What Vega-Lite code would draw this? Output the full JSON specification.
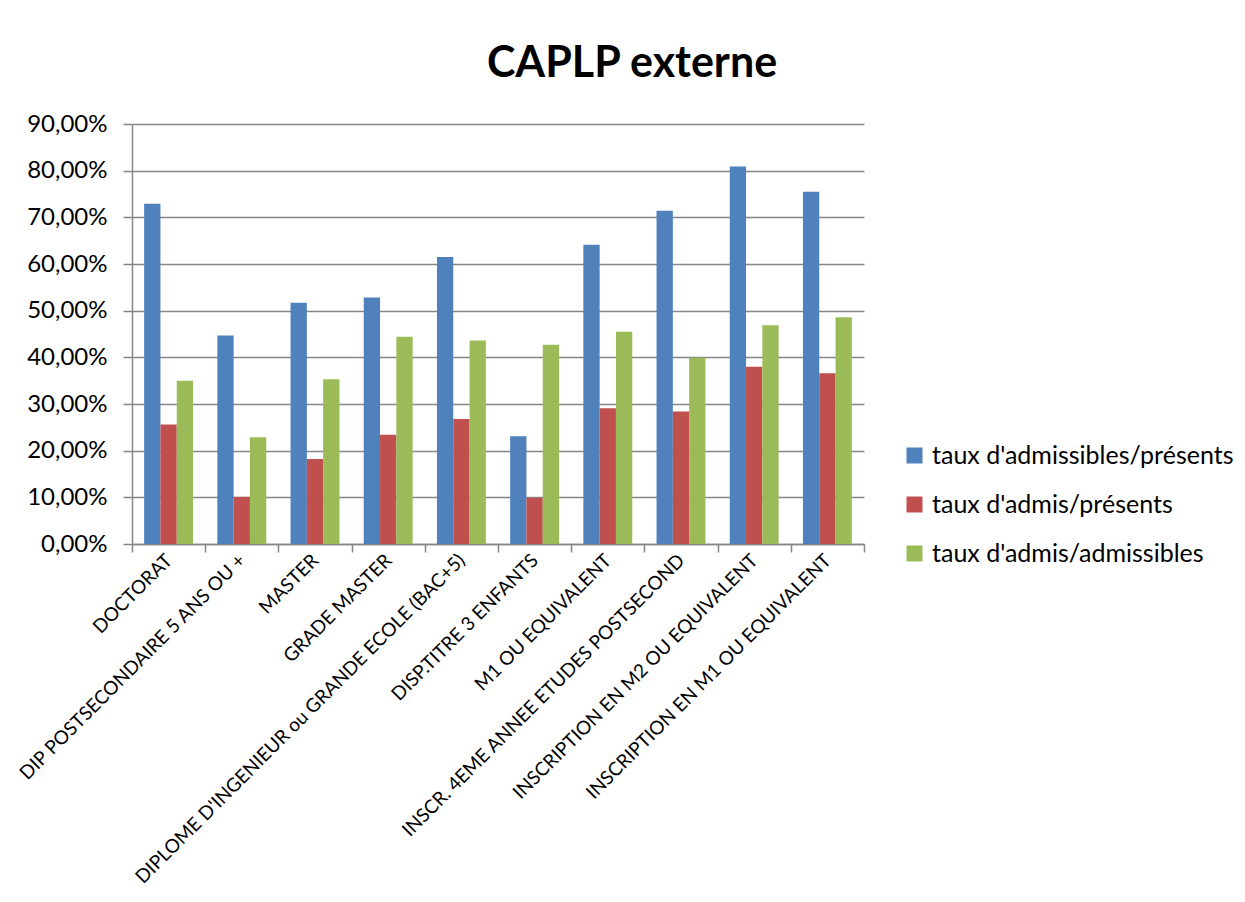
{
  "$schema": "https://vega.github.io/schema/vega-lite/v6.json",
  "autosize": {"type": "none"},
  "padding": {"left": 132, "top": 124, "right": 381, "bottom": 358},
  "width": 732,
  "height": 420,
  "background": "white",
  "title": {
    "text": "CAPLP externe",
    "font": "Lato",
    "fontSize": 43,
    "fontWeight": "bold",
    "color": "#000000",
    "anchor": "middle",
    "frame": "group",
    "baseline": "alphabetic",
    "offset": 35,
    "dx": 134,
    "dy": 43
  },
  "data": {
    "values": [
      {"diplome": "DOCTORAT", "serie": "taux d'admissibles/présents", "taux": 0.729},
      {"diplome": "DOCTORAT", "serie": "taux d'admis/présents", "taux": 0.256},
      {"diplome": "DOCTORAT", "serie": "taux d'admis/admissibles", "taux": 0.350},
      {"diplome": "DIP POSTSECONDAIRE 5 ANS OU +", "serie": "taux d'admissibles/présents", "taux": 0.447},
      {"diplome": "DIP POSTSECONDAIRE 5 ANS OU +", "serie": "taux d'admis/présents", "taux": 0.101},
      {"diplome": "DIP POSTSECONDAIRE 5 ANS OU +", "serie": "taux d'admis/admissibles", "taux": 0.229},
      {"diplome": "MASTER", "serie": "taux d'admissibles/présents", "taux": 0.517},
      {"diplome": "MASTER", "serie": "taux d'admis/présents", "taux": 0.182},
      {"diplome": "MASTER", "serie": "taux d'admis/admissibles", "taux": 0.353},
      {"diplome": "GRADE MASTER", "serie": "taux d'admissibles/présents", "taux": 0.528},
      {"diplome": "GRADE MASTER", "serie": "taux d'admis/présents", "taux": 0.234},
      {"diplome": "GRADE MASTER", "serie": "taux d'admis/admissibles", "taux": 0.444},
      {"diplome": "DIPLOME D'INGENIEUR ou GRANDE ECOLE (BAC+5)", "serie": "taux d'admissibles/présents", "taux": 0.615},
      {"diplome": "DIPLOME D'INGENIEUR ou GRANDE ECOLE (BAC+5)", "serie": "taux d'admis/présents", "taux": 0.268},
      {"diplome": "DIPLOME D'INGENIEUR ou GRANDE ECOLE (BAC+5)", "serie": "taux d'admis/admissibles", "taux": 0.436},
      {"diplome": "DISP.TITRE 3 ENFANTS", "serie": "taux d'admissibles/présents", "taux": 0.231},
      {"diplome": "DISP.TITRE 3 ENFANTS", "serie": "taux d'admis/présents", "taux": 0.099},
      {"diplome": "DISP.TITRE 3 ENFANTS", "serie": "taux d'admis/admissibles", "taux": 0.427},
      {"diplome": "M1 OU EQUIVALENT", "serie": "taux d'admissibles/présents", "taux": 0.641},
      {"diplome": "M1 OU EQUIVALENT", "serie": "taux d'admis/présents", "taux": 0.291},
      {"diplome": "M1 OU EQUIVALENT", "serie": "taux d'admis/admissibles", "taux": 0.455},
      {"diplome": "INSCR. 4EME ANNEE ETUDES POSTSECOND", "serie": "taux d'admissibles/présents", "taux": 0.714},
      {"diplome": "INSCR. 4EME ANNEE ETUDES POSTSECOND", "serie": "taux d'admis/présents", "taux": 0.284},
      {"diplome": "INSCR. 4EME ANNEE ETUDES POSTSECOND", "serie": "taux d'admis/admissibles", "taux": 0.399},
      {"diplome": "INSCRIPTION EN M2 OU EQUIVALENT", "serie": "taux d'admissibles/présents", "taux": 0.809},
      {"diplome": "INSCRIPTION EN M2 OU EQUIVALENT", "serie": "taux d'admis/présents", "taux": 0.380},
      {"diplome": "INSCRIPTION EN M2 OU EQUIVALENT", "serie": "taux d'admis/admissibles", "taux": 0.469},
      {"diplome": "INSCRIPTION EN M1 OU EQUIVALENT", "serie": "taux d'admissibles/présents", "taux": 0.755},
      {"diplome": "INSCRIPTION EN M1 OU EQUIVALENT", "serie": "taux d'admis/présents", "taux": 0.366},
      {"diplome": "INSCRIPTION EN M1 OU EQUIVALENT", "serie": "taux d'admis/admissibles", "taux": 0.486}
    ]
  },
  "mark": {"type": "bar"},
  "encoding": {
    "x": {
      "field": "diplome",
      "type": "nominal",
      "sort": null,
      "title": null,
      "scale": {"paddingInner": 0, "paddingOuter": 0},
      "axis": {
        "labelAngle": -45,
        "labelAlign": "right",
        "labelBaseline": "middle",
        "labelFont": "Lato",
        "labelFontSize": 19,
        "labelColor": "#000000",
        "labelPadding": 5,
        "labelLimit": 700,
        "tickBand": "extent",
        "tickSize": 8,
        "tickColor": "#868686",
        "tickWidth": 1.5,
        "domainColor": "#868686",
        "domainWidth": 1.5,
        "grid": false
      }
    },
    "xOffset": {
      "field": "serie",
      "type": "nominal",
      "sort": ["taux d'admissibles/présents", "taux d'admis/présents", "taux d'admis/admissibles"],
      "scale": {"paddingInner": 0, "paddingOuter": 0.745}
    },
    "y": {
      "field": "taux",
      "type": "quantitative",
      "title": null,
      "scale": {"domain": [0, 0.9], "nice": false},
      "axis": {
        "values": [0, 0.1, 0.2, 0.3, 0.4, 0.5, 0.6, 0.7, 0.8, 0.9],
        "labelExpr": "replace(format(datum.value, '.2%'), '.', ',')",
        "labelFont": "Lato",
        "labelFontSize": 24,
        "labelColor": "#000000",
        "labelPadding": 16,
        "tickSize": 9,
        "tickColor": "#868686",
        "tickWidth": 1.5,
        "domainColor": "#868686",
        "domainWidth": 1.5,
        "gridColor": "#868686",
        "gridWidth": 1.5
      }
    },
    "color": {
      "field": "serie",
      "type": "nominal",
      "sort": ["taux d'admissibles/présents", "taux d'admis/présents", "taux d'admis/admissibles"],
      "scale": {"range": ["#4F81BD", "#C0504D", "#9BBB59"]},
      "legend": {
        "title": null,
        "orient": "none",
        "legendX": 770,
        "legendY": 319,
        "padding": 0,
        "symbolType": "square",
        "symbolSize": 256,
        "symbolStrokeWidth": 0,
        "labelFont": "Lato",
        "labelFontSize": 25,
        "labelColor": "#000000",
        "labelOffset": 5,
        "labelLimit": 400,
        "rowPadding": 23
      }
    }
  },
  "config": {
    "view": {"stroke": null}
  }
}
